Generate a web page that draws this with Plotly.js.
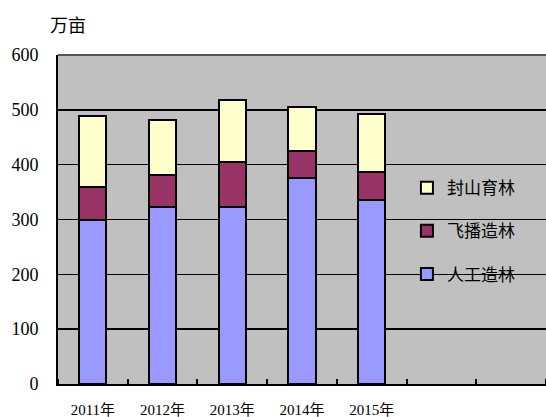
<!DOCTYPE html>
<html><head><meta charset="utf-8">
<script src="https://cdn.plot.ly/plotly-3.0.1.min.js"></script>
<style>html,body{margin:0;padding:0;background:#fff}</style>
</head><body><div id="chart" style="width:546px;height:417px"></div>
<script>
const categories = ["2011年", "2012年", "2013年", "2014年", "2015年"];
const renGong = [300, 323, 323, 376, 336];   // 人工造林
const feiBo = [60, 59, 82, 49, 51];          // 飞播造林
const fengShan = [128, 99, 113, 80, 105];    // 封山育林
const yTicks = [0, 100, 200, 300, 400, 500, 600];
const unitLabel = "万亩";

const xs = categories.map((c, i) => i);
const serif = "Liberation Serif, Noto Sans CJK SC, serif";
const line = {color: "#000", width: 2};

const traces = [
  {name: "人工造林", y: renGong, color: "#9999ff"},
  {name: "飞播造林", y: feiBo, color: "#993366"},
  {name: "封山育林", y: fengShan, color: "#ffffcc"}
].map((s, i) => ({
  type: "bar", x: xs, y: s.y, name: s.name, width: 0.39,
  legendgroup: "g" + i, legendrank: 3 - i,
  marker: {color: s.color, line: line},
  hoverinfo: "skip"
}));

const layout = {
  width: 546, height: 417,
  margin: {l: 58, r: 0, t: 55, b: 33, pad: 0},
  paper_bgcolor: "#fff", plot_bgcolor: "#c0c0c0",
  barmode: "stack",
  showlegend: true,
  legend: {x: 0.715, y: 0.65, xanchor: "left", yanchor: "top",
           bgcolor: "rgba(0,0,0,0)", traceorder: "grouped", tracegroupgap: 18,
           font: {family: "Noto Sans CJK SC", size: 17, color: "#000"}},
  title: {text: unitLabel, xref: "container", yref: "container", x: 50/546, xanchor: "left",
          y: 1 - 26/417, yanchor: "middle",
          font: {family: "Noto Sans CJK SC", size: 18, color: "#000"}},
  xaxis: {range: [-0.5, 6.5], tickvals: xs, ticktext: categories, ticks: "",
          showgrid: false, zeroline: false, showline: true, linecolor: "#000", linewidth: 2,
          ticklabelstandoff: 11,
          minor: {tick0: 0.5, dtick: 1, ticks: "inside", ticklen: 5, tickwidth: 2, tickcolor: "#000", showgrid: false},
          tickfont: {family: serif, size: 15, color: "#000"}, fixedrange: true},
  yaxis: {range: [0, 600], tickvals: yTicks, ticks: "", showgrid: true, gridcolor: "#000", gridwidth: 1.5,
          zeroline: false, showline: true, linecolor: "#000", linewidth: 2,
          ticklabelstandoff: 14,
          tickfont: {family: serif, size: 18, color: "#000"}, fixedrange: true},
  shapes: [{type: "line", xref: "paper", yref: "paper", x0: 0, x1: 1, y0: 1, y1: 1,
            line: {color: "#555", width: 2}}]
};
Plotly.newPlot("chart", traces, layout, {staticPlot: true});
</script></body></html>
